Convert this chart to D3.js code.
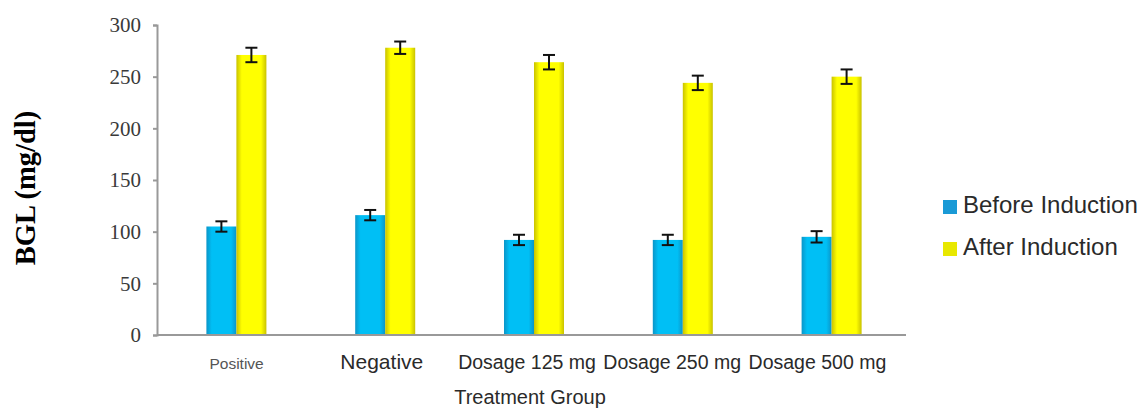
<!DOCTYPE html>
<html>
<head>
<meta charset="utf-8">
<script src="https://cdn.jsdelivr.net/npm/d3@7"></script>
<style>
	body { margin: 0; background: #fff; }
	svg { display: block; }
</style>
</head>
<body>
<svg id="chart" width="1144" height="408"></svg>
<script>
const groups = ["Positive", "Negative", "Dosage 125 mg", "Dosage 250 mg", "Dosage 500 mg"];
const series = ["Before Induction", "After Induction"];
const before = [105, 116, 92, 92, 95];
const beforeErr = [5, 5, 5, 5, 5.5];
const after = [271, 278, 264, 244, 250];
const afterErr = [7, 6, 7, 7, 7];
const yTicks = [0, 50, 100, 150, 200, 250, 300];

const svg = d3.select("#chart");
const x0 = 157, x1 = 906, yTop = 25, yBase = 335;

const y = d3.scaleLinear().domain([0, 300]).range([yBase, yTop]);
const x = d3.scaleBand().domain(groups).range([162, 906]);
const groupW = 60;
const xs = d3.scaleBand().domain(series).range([0, groupW]);
const labelX = d3.scaleBand().domain(groups).range([164, 890]);

// gradients for the shaded bars
const defs = svg.append("defs");
function grad(id, edge, mid) {
	const g = defs.append("linearGradient").attr("id", id)
		.attr("x1", "0%").attr("x2", "100%").attr("y1", "0%").attr("y2", "0%");
	g.append("stop").attr("offset", "0%").attr("stop-color", edge);
	g.append("stop").attr("offset", "18%").attr("stop-color", mid);
	g.append("stop").attr("offset", "82%").attr("stop-color", mid);
	g.append("stop").attr("offset", "100%").attr("stop-color", edge);
}
grad("gBlue", "#0b95c8", "#00bff5");
grad("gYellow", "#c9c200", "#ffff00");
const fills = { "Before Induction": "url(#gBlue)", "After Induction": "url(#gYellow)" };
const legendFill = { "Before Induction": "#1a9ad6", "After Induction": "#e8e800" };

const rows = groups.map((g, i) => [
	{ group: g, key: series[0], value: before[i], err: beforeErr[i] },
	{ group: g, key: series[1], value: after[i], err: afterErr[i] },
]).flat();

// y axis
const yAxis = svg.append("g").attr("transform", `translate(${x0},0)`)
	.call(d3.axisLeft(y).tickValues(yTicks).tickSize(4).tickPadding(12));
yAxis.select(".domain").attr("stroke", "#999").attr("stroke-width", 2);
yAxis.selectAll(".tick line").attr("stroke", "#999").attr("stroke-width", 2);
yAxis.selectAll(".tick text")
	.attr("fill", "#3a3a3a")
	.style("font-family", "'Liberation Serif', 'Times New Roman', serif")
	.style("font-size", "21px");

// bars
svg.append("g").selectAll("rect").data(rows).join("rect")
	.attr("x", (d) => x(d.group) + (x.bandwidth() - groupW) / 2 + xs(d.key))
	.attr("y", (d) => y(d.value))
	.attr("width", xs.bandwidth())
	.attr("height", (d) => y(0) - y(d.value))
	.attr("fill", (d) => fills[d.key]);

// x axis line
svg.append("line")
	.attr("x1", x0).attr("x2", x1).attr("y1", yBase).attr("y2", yBase)
	.attr("stroke", "#999").attr("stroke-width", 2);

// error bars
const eb = svg.append("g").attr("stroke", "#111").attr("stroke-width", 2).attr("fill", "none");
rows.forEach((d) => {
	const cx = x(d.group) + (x.bandwidth() - groupW) / 2 + xs(d.key) + xs.bandwidth() / 2;
	const hi = y(d.value + d.err), lo = y(d.value - d.err);
	eb.append("line").attr("x1", cx).attr("x2", cx).attr("y1", hi).attr("y2", lo);
	eb.append("line").attr("x1", cx - 6).attr("x2", cx + 6).attr("y1", hi).attr("y2", hi);
	eb.append("line").attr("x1", cx - 6).attr("x2", cx + 6).attr("y1", lo).attr("y2", lo);
});

// category labels
const labelSize = [15.5, 21, 19.5, 19.5, 19.5];
const labelColor = ["#555", "#2a2a2a", "#2a2a2a", "#2a2a2a", "#2a2a2a"];
svg.append("g").selectAll("text").data(groups).join("text")
	.attr("x", (d) => labelX(d) + labelX.bandwidth() / 2)
	.attr("y", 369)
	.attr("text-anchor", "middle")
	.attr("fill", (d, i) => labelColor[i])
	.style("font-family", "'Liberation Sans', Arial, sans-serif")
	.style("font-size", (d, i) => labelSize[i] + "px")
	.text((d) => d);

// axis titles
svg.append("text")
	.attr("x", 530).attr("y", 404)
	.attr("text-anchor", "middle")
	.attr("fill", "#2a2a2a")
	.style("font-family", "'Liberation Sans', Arial, sans-serif")
	.style("font-size", "20px")
	.text("Treatment Group");

svg.append("text")
	.attr("transform", "translate(35,188) rotate(-90)")
	.attr("text-anchor", "middle")
	.attr("fill", "#000")
	.style("font-family", "'Liberation Serif', 'Times New Roman', serif")
	.style("font-weight", "bold")
	.style("font-size", "28.5px")
	.text("BGL (mg/dl)");

// legend
const legend = svg.append("g").selectAll("g").data(series).join("g")
	.attr("transform", (d, i) => `translate(943,${200 + i * 42})`);
legend.append("rect")
	.attr("width", 14).attr("height", 14)
	.attr("fill", (d) => legendFill[d]);
legend.append("text")
	.attr("x", 20).attr("y", 13)
	.attr("fill", "#2a2a2a")
	.style("font-family", "'Liberation Sans', Arial, sans-serif")
	.style("font-size", "24px")
	.text((d) => d);
</script>
</body>
</html>
